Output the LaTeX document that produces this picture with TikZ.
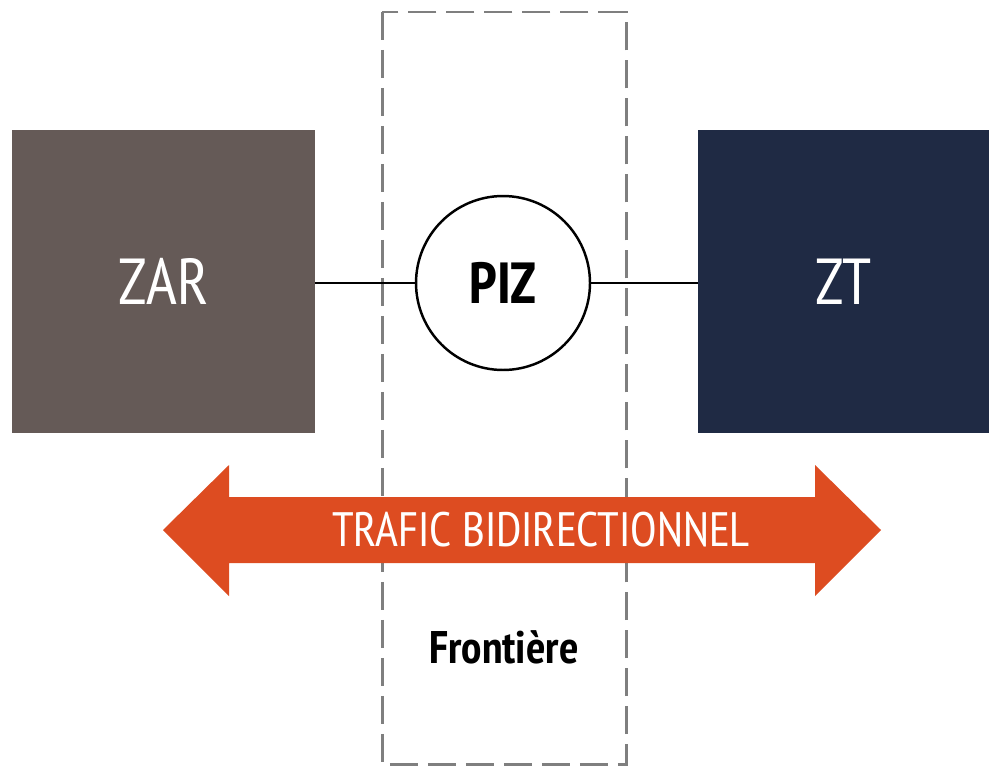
\documentclass[tikz,border=0pt]{standalone}
\usepackage{fontspec}
\setmainfont{PT Sans Narrow}
\usetikzlibrary{positioning}

\definecolor{zargray}{HTML}{655A57}
\definecolor{ztblue}{HTML}{1F2A44}
\definecolor{traficorange}{HTML}{DD4C21}
\definecolor{bordergray}{HTML}{7F7F7F}

\tikzset{
  zone/.style={fill=#1, text=white, minimum height=6.06cm,
    font=\fontsize{37}{40}\selectfont},
  piz/.style={circle, draw, line width=1.4pt, fill=white, minimum size=3.48cm,
    font=\fontsize{33}{36}\selectfont\bfseries},
}

\begin{document}
\begin{tikzpicture}[x=0.02cm, y=-0.02cm]
  \useasboundingbox (0,0) rectangle (989,767);

  % border strip
  \draw [bordergray, line width=1.7pt, dash pattern=on 0.56cm off 0.2cm]
    (382,12) rectangle (626,764);

  % zones
  \node (zar) at (163.5,281.5) [zone=zargray, minimum width=6.06cm] {ZAR};
  \node (zt) at (843.5,281.5) [zone=ztblue, minimum width=5.82cm] {ZT};
  \node (piz) at (503,283) [piz] {PIZ};

  \draw [line width=1.4pt] (zar.east |- piz) -- (piz.west);
  \draw [line width=1.4pt] (piz.east) -- (zt.west |- piz);

  % two-way traffic
  \fill [traficorange] (163,530) -- (229,465) -- (229,497) -- (815,497)
    -- (815,465) -- (881,530) -- (815,596) -- (815,563) -- (229,563)
    -- (229,596) -- cycle;
  \node (trafic) at (541,530) [text=white, font=\fontsize{27.5}{30}\selectfont]
    {TRAFIC BIDIRECTIONNEL};

  \node (frontiere) at (504,647) [font=\fontsize{26}{29}\selectfont\bfseries]
    {Frontière};
\end{tikzpicture}
\end{document}
